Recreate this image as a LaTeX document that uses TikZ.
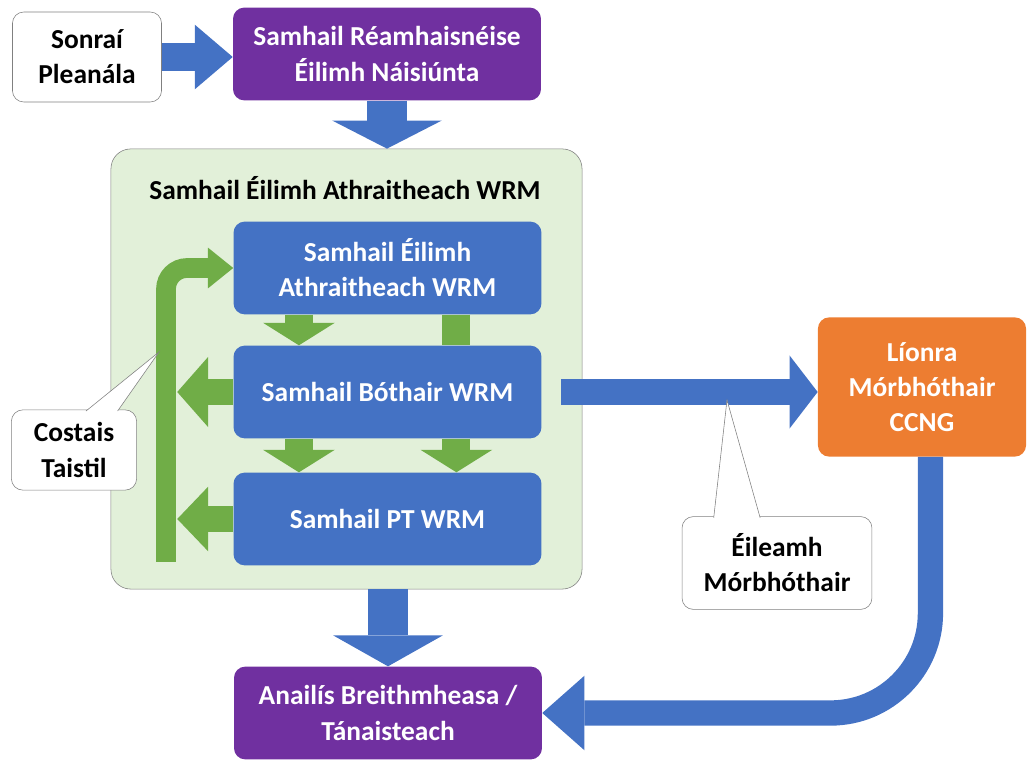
\documentclass[tikz,border=0pt]{standalone}
\usepackage{fontspec}
\setmainfont{Carlito}
\usepackage{xcolor}
\usepackage{tikz}
\usetikzlibrary{arrows.meta, positioning}
\definecolor{wrmblue}{HTML}{4472C4}
\definecolor{wrmpurple}{HTML}{7030A0}
\definecolor{wrmorange}{HTML}{ED7D31}
\definecolor{wrmgreen}{HTML}{70AD47}
\definecolor{wrmpale}{HTML}{E2F0D9}
\definecolor{wrmedge}{HTML}{808080}

\begin{document}
\begin{tikzpicture}[x=0.025cm, y=-0.025cm, font=\fontsize{19.5}{25}\selectfont\bfseries,
	model/.style={rounded corners=8pt, align=center, text=white, minimum width=219pt, minimum height=66pt, inner sep=2pt},
	notebox/.style={draw=wrmedge, fill=white, rounded corners=8pt, align=center, inner sep=2pt},
	blockarrow/.style n args={4}{draw=#1, line width=#2, -{Triangle[length=#3, width=#4, line width=0pt]}}]
			\useasboundingbox (0,0) rectangle (1028,760);
			% outer container
			\node[draw=wrmedge, fill=wrmpale, rounded corners=14pt, minimum width=335pt, minimum height=313pt] (wrmbox) at (346.5,369) {};
			\node (wrmtitle) at (345,188) {Samhail Éilimh Athraitheach WRM};
			% boxes
			\node[notebox, minimum width=106pt, minimum height=64pt] (sonrai) at (87,57) {Sonraí\\Pleanála};
			\node[model, fill=wrmpurple] (national) at (387,54) {Samhail Réamhaisnéise\\Éilimh Náisiúnta};
			\node[model, fill=wrmblue] (demand) at (387.5,268) {Samhail Éilimh\\Athraitheach WRM};
			\node[model, fill=wrmblue] (road) at (387.5,392) {Samhail Bóthair WRM};
			\node[model, fill=wrmblue] (pt) at (387.5,519) {Samhail PT WRM};
			\node[model, fill=wrmorange, minimum width=148pt, minimum height=99pt] (ccng) at (922,387) {Líonra\\Mórbhóthair\\CCNG};
			\node[model, fill=wrmpurple] (appraisal) at (388,713) {Anailís Breithmheasa /\\Tánaisteach};
			\coordinate (barfoot) at (166,562);
			% blue arrows
			\draw[blockarrow={wrmblue}{20pt}{27pt}{46pt}] (sonrai.east) -- (national.west |- sonrai.east);
			\draw[blockarrow={wrmblue}{28pt}{20pt}{78pt}] (national.south) -- (national.south |- wrmbox.north);
			\draw[blockarrow={wrmblue}{28pt}{22pt}{78pt}] (appraisal.north |- wrmbox.south) -- (appraisal.north);
			\draw[blockarrow={wrmblue}{19pt}{20pt}{52pt}] ([xshift=14pt]road.east) -- (ccng.west |- road.east);
			\draw[blockarrow={wrmblue}{18pt}{30pt}{53pt}, rounded corners=71pt] ([xshift=6pt]ccng.south) |- (appraisal.east);
			% green arrows
			\draw[blockarrow={wrmgreen}{14pt}{18pt}{29pt}, rounded corners=15pt] (barfoot) |- (demand.west);
			\draw[blockarrow={wrmgreen}{20pt}{16pt}{51pt}] ([xshift=-63pt]demand.south) -- ([xshift=-63pt]road.north);
			\draw[draw=wrmgreen, line width=20pt] ([xshift=49pt]demand.south) -- ([xshift=49pt]road.north);
			\draw[blockarrow={wrmgreen}{20pt}{16pt}{51pt}] ([xshift=-63pt]road.south) -- ([xshift=-63pt]pt.north);
			\draw[blockarrow={wrmgreen}{20pt}{16pt}{51pt}] ([xshift=49pt]road.south) -- ([xshift=49pt]pt.north);
			\draw[blockarrow={wrmgreen}{19pt}{22pt}{50pt}] (road.west) -- ([xshift=8pt]barfoot |- road.west);
			\draw[blockarrow={wrmgreen}{19pt}{22pt}{46pt}] (pt.west) -- ([xshift=8pt]barfoot |- pt.west);
			% callouts
			\node[notebox, minimum width=89pt, minimum height=57pt] (costais) at (74,450) {Costais\\Taistil};
			\coordinate (costaistip) at (159,352);
			\draw[draw=wrmedge, fill=white] ([xshift=8.5pt, yshift=-1pt]costais.north) -- (costaistip) -- ([xshift=31pt, yshift=-1pt]costais.north);
			\node[notebox, minimum width=135pt, minimum height=66pt] (eileamh) at (777,563) {Éileamh\\Mórbhóthair};
			\coordinate (eileamhtip) at (727,400);
			\draw[draw=wrmedge, fill=white] ([xshift=-45pt, yshift=-1pt]eileamh.north) -- (eileamhtip) -- ([xshift=-12pt, yshift=-1pt]eileamh.north);
		\end{tikzpicture}
\end{document}
